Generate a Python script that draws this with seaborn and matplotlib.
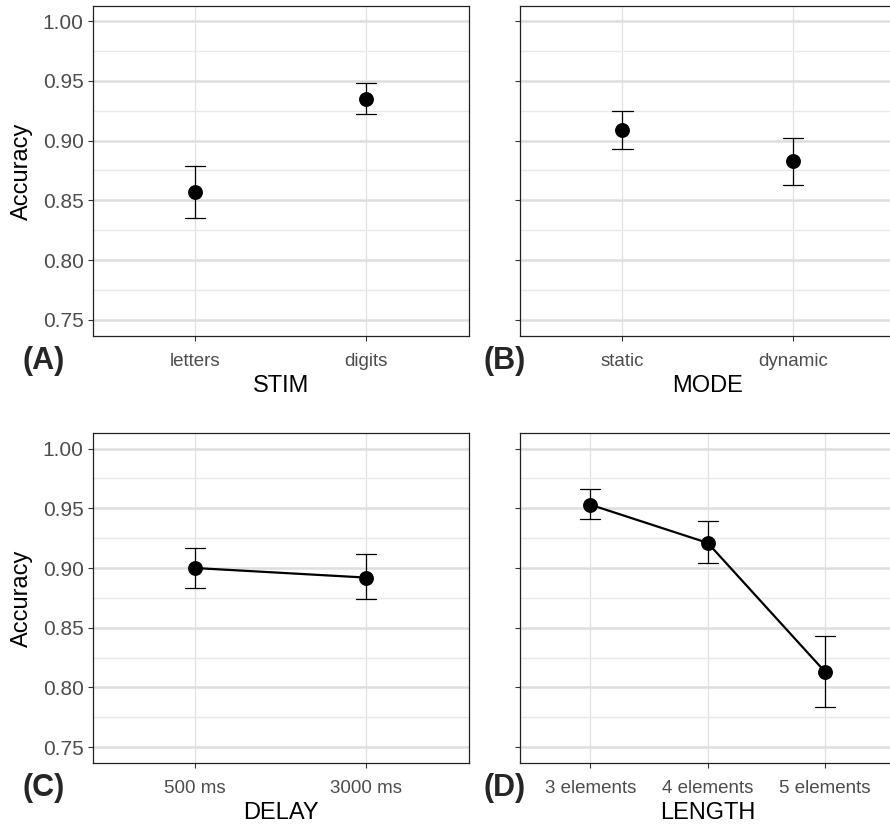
import numpy as np
import pandas as pd
import matplotlib
matplotlib.use("Agg")
import matplotlib.pyplot as plt
import seaborn as sns
from matplotlib.ticker import FixedLocator, FormatStrFormatter

# ---- data (mean and 95% CI bounds) ----
stim_cats = ["letters", "digits"]
stim_mean = [0.857, 0.935]
stim_lo = [0.835, 0.922]
stim_hi = [0.879, 0.948]

mode_cats = ["static", "dynamic"]
mode_mean = [0.909, 0.883]
mode_lo = [0.893, 0.863]
mode_hi = [0.925, 0.902]

delay_cats = ["500 ms", "3000 ms"]
delay_mean = [0.900, 0.892]
delay_lo = [0.883, 0.874]
delay_hi = [0.917, 0.912]

length_cats = ["3 elements", "4 elements", "5 elements"]
length_mean = [0.953, 0.921, 0.813]
length_lo = [0.941, 0.904, 0.784]
length_hi = [0.966, 0.939, 0.843]

y_ticks = [0.75, 0.80, 0.85, 0.90, 0.95, 1.00]
y_minor = [0.775, 0.825, 0.875, 0.925, 0.975]

sns.set_style("white")
plt.rcParams["font.family"] = ["Liberation Sans", "DejaVu Sans"]

W, H = 890, 827
fig = plt.figure(figsize=(W / 100, H / 100), dpi=100)


def add_ax(l, t, r, b):
    return fig.add_axes([l / W, 1 - b / H, (r - l) / W, (b - t) / H])


def long_df(cats, lo, mean, hi):
    rows = []
    for c, a, m, b in zip(cats, lo, mean, hi):
        for v in (a, m, b):
            rows.append({"cond": c, "acc": v})
    return pd.DataFrame(rows)


def panel(ax, cats, lo, mean, hi, xlabel, tag, tag_x, show_y, join, capsize):
    df = long_df(cats, lo, mean, hi)
    sns.pointplot(data=df, x="cond", y="acc", order=cats, estimator="median",
                  errorbar=lambda v: (v.min(), v.max()), color="black",
                  marker="o", markersize=9.5, linewidth=1.6,
                  linestyle="-" if join else "none",
                  capsize=capsize, err_kws={"linewidth": 0.9, "color": "black"},
                  ax=ax)
    n = len(cats)
    ax.set_xlim(-0.6, n - 1 + 0.6)
    ax.set_ylim(0.7365, 1.0128)
    ax.yaxis.set_major_locator(FixedLocator(y_ticks))
    ax.yaxis.set_minor_locator(FixedLocator(y_minor))
    ax.yaxis.set_major_formatter(FormatStrFormatter("%.2f"))
    ax.set_axisbelow(True)
    ax.grid(False)
    ax.grid(True, which="major", axis="y", color="#DEDEDE", linewidth=1.8)
    ax.grid(True, which="minor", axis="y", color="#E8E8E8", linewidth=1.0)
    ax.grid(True, which="major", axis="x", color="#E1E1E1", linewidth=0.9)
    for s in ax.spines.values():
        s.set_visible(True)
        s.set_color("#222222")
        s.set_linewidth(0.9)
    ax.tick_params(axis="both", which="major", length=3.5, width=0.8,
                   color="#333333", labelcolor="#4D4D4D", bottom=True, left=True)
    ax.tick_params(axis="y", which="major", labelsize=15, pad=3)
    ax.tick_params(axis="x", which="major", labelsize=13.5, pad=8.5)
    ax.tick_params(which="minor", length=0)
    ax.set_xlabel(xlabel, fontsize=17, color="black", labelpad=3.5)
    if show_y:
        ax.set_ylabel("Accuracy", fontsize=17, color="black", labelpad=7)
    else:
        ax.set_ylabel("")
        ax.tick_params(axis="y", labelleft=False)
    fig.text(tag_x[0] / W, 1 - tag_x[1] / H, tag, fontsize=22, fontweight="bold",
             ha="center", va="center")


ax_a = add_ax(92.7, 5.7, 468.5, 336)
ax_b = add_ax(520, 5.7, 895.6, 336)
ax_c = add_ax(92.7, 433.3, 468.5, 763.3)
ax_d = add_ax(520, 433.3, 895.6, 763.3)

panel(ax_a, stim_cats, stim_lo, stim_mean, stim_hi, "STIM", "(A)", (44, 361), True, False, 0.12)
panel(ax_b, mode_cats, mode_lo, mode_mean, mode_hi, "MODE", "(B)", (505, 361), False, False, 0.12)
panel(ax_c, delay_cats, delay_lo, delay_mean, delay_hi, "DELAY", "(C)", (44, 788), True, True, 0.12)
panel(ax_d, length_cats, length_lo, length_mean, length_hi, "LENGTH", "(D)", (505, 788), False, True, 0.17)

fig.savefig("out.png", dpi=100)
